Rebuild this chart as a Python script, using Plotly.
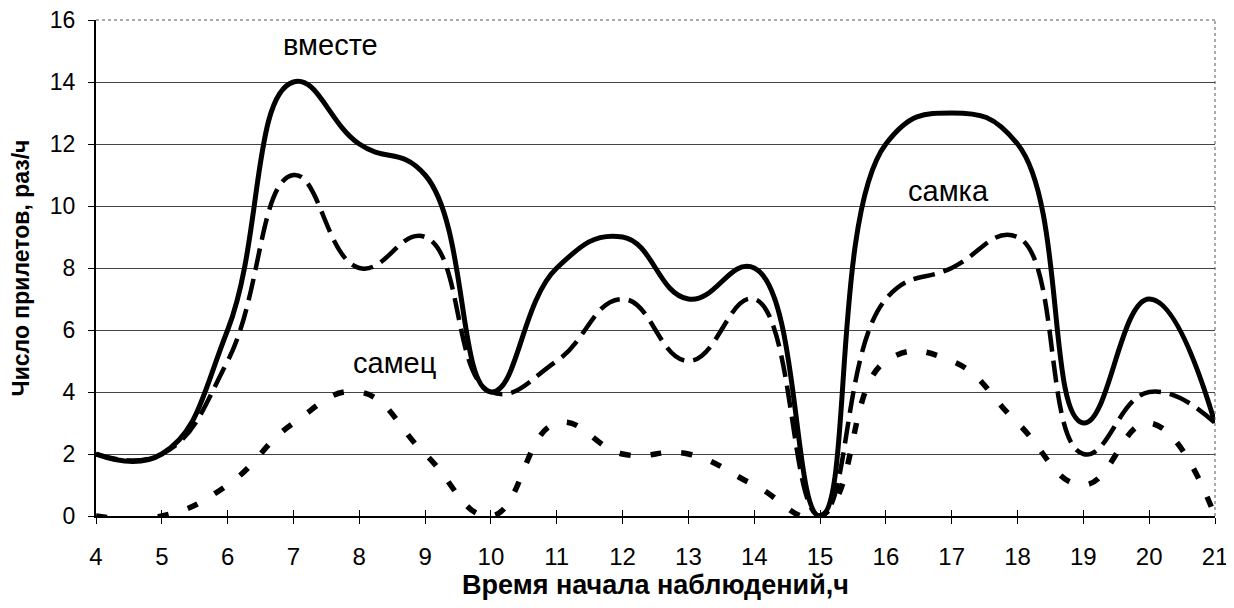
import plotly.graph_objects as go

hours = list(range(4, 22))
together = [2, 2, 6, 14, 12, 11, 4, 8, 9, 7, 8, 0, 12, 13, 12, 3, 7, 3]
female = [2, 2, 5, 11, 8, 9, 4, 5, 7, 5, 7, 0, 7, 8, 9, 2, 4, 3]
male = [0, 0, 1, 3, 4, 2, 0, 3, 2, 2, 1, 0, 5, 5, 3, 1, 3, 0]
y_ticks = list(range(0, 17, 2))

FONT = "Arial, Liberation Sans, sans-serif"
SMOOTH = 1.3

fig = go.Figure()
fig.add_trace(go.Scatter(x=hours, y=male, mode="lines", name="самец",
                         line=dict(color="black", width=5.5, dash="11px,20px",
                                   shape="spline", smoothing=SMOOTH),
                         showlegend=False))
fig.add_trace(go.Scatter(x=hours, y=female, mode="lines", name="самка",
                         line=dict(color="black", width=4.5, dash="22px,9px",
                                   shape="spline", smoothing=SMOOTH),
                         showlegend=False))
fig.add_trace(go.Scatter(x=hours, y=together, mode="lines", name="вместе",
                         line=dict(color="black", width=5,
                                   shape="spline", smoothing=SMOOTH),
                         showlegend=False))
# helper trace so that the overlay axis (inner tick marks) is drawn
fig.add_trace(go.Scatter(x=hours, y=[None] * len(hours), xaxis="x2",
                         mode="lines", showlegend=False, hoverinfo="skip"))

# page body has an 8px default margin, so the figure is 8px smaller
fig.update_layout(
    width=1226, height=600,
    margin=dict(l=88, r=19, t=12, b=92),
    paper_bgcolor="white", plot_bgcolor="white",
    font=dict(family=FONT, color="black"),
    xaxis=dict(range=[4, 21], tickmode="array", tickvals=hours,
               ticktext=[str(h) for h in hours],
               ticks="outside", ticklen=6, tickwidth=1, tickcolor="black",
               tickfont=dict(size=24, family=FONT),
               ticklabeloverflow="allow",
               showgrid=False, zeroline=False, automargin=False,
               showline=True, linecolor="black", linewidth=2,
               ticklabelstandoff=12,
               title=dict(text="<b>Время начала наблюдений,ч</b>",
                          font=dict(size=27, family=FONT), standoff=2)),
    xaxis2=dict(range=[4, 21], overlaying="x", anchor="y", side="bottom",
                tickmode="array", tickvals=hours, showticklabels=False,
                ticks="inside", ticklen=6, tickwidth=1, tickcolor="black",
                showgrid=False, zeroline=False, showline=False,
                automargin=False),
    yaxis=dict(range=[0, 16], tickmode="array", tickvals=y_ticks,
               ticks="outside", ticklen=6, tickwidth=1, tickcolor="black",
               tickfont=dict(size=23, family=FONT),
               ticklabeloverflow="allow",
               showgrid=True, gridcolor="#444444", gridwidth=1,
               zeroline=False, automargin=False,
               showline=True, linecolor="black", linewidth=2,
               ticklabelstandoff=8,
               title=dict(text="<b>Число прилетов, раз/ч</b>",
                          font=dict(size=23, family=FONT), standoff=14)),
    shapes=[
        dict(type="line", xref="paper", yref="paper", x0=0, x1=1, y0=1, y1=1,
             line=dict(color="#555555", width=1, dash="dot")),
        dict(type="line", xref="paper", yref="paper", x0=1, x1=1, y0=0, y1=1,
             line=dict(color="#555555", width=1, dash="dot")),
    ],
    annotations=[
        dict(x=7.56, y=15.2, text="вместе", showarrow=False,
             font=dict(size=29, family=FONT)),
        dict(x=16.95, y=10.5, text="самка", showarrow=False,
             font=dict(size=29, family=FONT)),
        dict(x=8.53, y=4.92, text="самец", showarrow=False,
             font=dict(size=29, family=FONT)),
    ],
)

fig.write_html("out.html")
